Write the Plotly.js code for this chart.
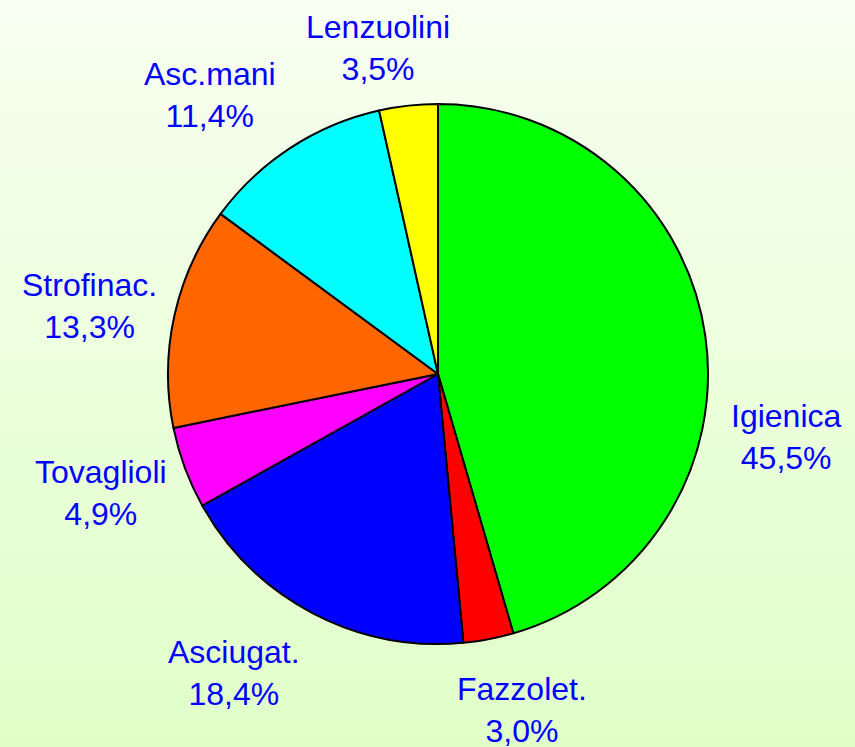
<!DOCTYPE html>
<html>
<head>
<meta charset="utf-8">
<script src="https://cdn.plot.ly/plotly-3.0.1.min.js"></script>
<style>
  html, body { margin:0; padding:0; }
  body { width:855px; height:747px; background: linear-gradient(to bottom, #F8FFF1 0%, #E0FFC8 100%); overflow:hidden; }
  #chart { width:855px; height:747px; }
</style>
</head>
<body>
<div id="chart"></div>
<script>
// ---- data ----
const categories = ["Igienica", "Fazzolet.", "Asciugat.", "Tovaglioli", "Strofinac.", "Asc.mani", "Lenzuolini"];
const shares = [45.5, 3.0, 18.4, 4.9, 13.3, 11.4, 3.5];
const sliceColors = ["#00FF00", "#FF0000", "#0000FF", "#FF00FF", "#FF6600", "#00FFFF", "#FFFF00"];

// ---- layout (label block centres in page pixels) ----
const labelPx = [[786, 437], [522, 710], [234, 673], [101, 493], [89, 306], [210, 95], [378, 48]];

const W = 855, H = 747;
const M = {l: 168, r: 147, t: 104, b: 103};
const pw = W - M.l - M.r, ph = H - M.t - M.b;

function fmt(v) { return v.toFixed(1).replace('.', ',') + '%'; }

const annotations = categories.map((c, i) => ({
  xref: 'paper', yref: 'paper',
  x: (labelPx[i][0] - M.l) / pw,
  y: 1 - (labelPx[i][1] - M.t) / ph,
  xanchor: 'center', yanchor: 'middle',
  text: c + '<br>' + fmt(shares[i]),
  showarrow: false,
  align: 'center',
  font: {family: 'Liberation Sans, Arial, sans-serif', size: 32, color: '#0000FF'}
}));

const trace = {
  type: 'pie',
  labels: categories,
  values: shares,
  sort: false,
  direction: 'clockwise',
  rotation: 0,
  marker: {colors: sliceColors, line: {color: '#000000', width: 2}},
  textinfo: 'none',
  hoverinfo: 'label+percent',
  showlegend: false
};

const layout = {
  width: W, height: H,
  margin: M,
  paper_bgcolor: 'rgba(0,0,0,0)',
  plot_bgcolor: 'rgba(0,0,0,0)',
  showlegend: false,
  annotations: annotations
};

Plotly.newPlot('chart', [trace], layout, {displayModeBar: false, staticPlot: true});
</script>
</body>
</html>
